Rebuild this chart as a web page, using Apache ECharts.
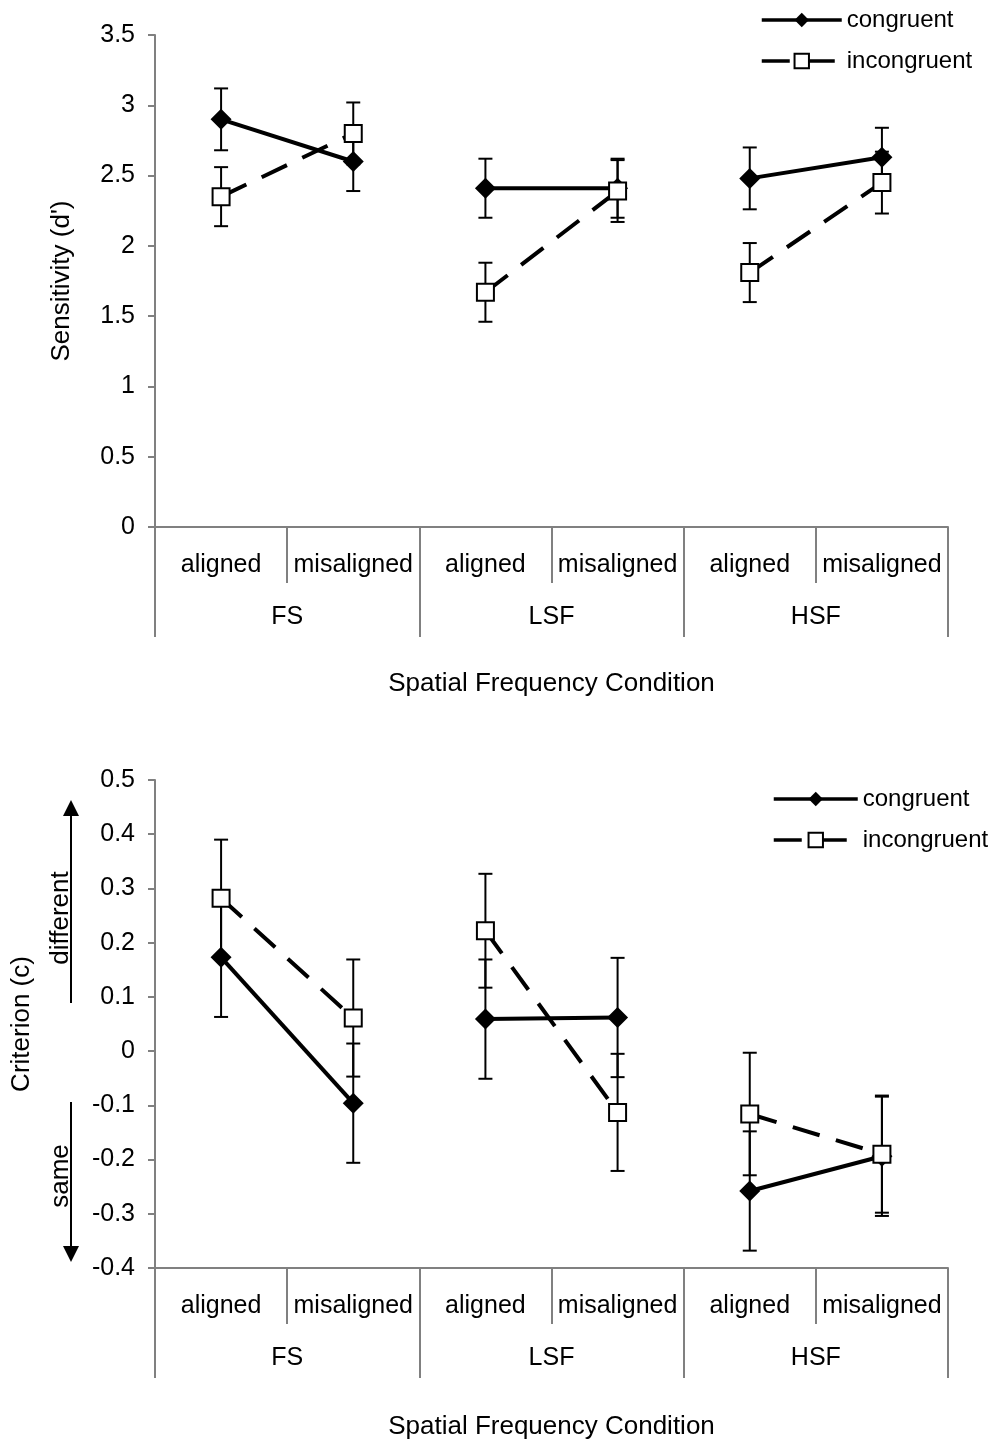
<!DOCTYPE html>
<html><head><meta charset="utf-8">
<script src="https://cdn.jsdelivr.net/npm/echarts@6/dist/echarts.min.js"></script>
<style>html,body{margin:0;padding:0;background:#fff}#c{width:1000px;height:1442px}</style>
</head><body><div id="c"></div>
<script>
// ---------- data ----------
const categories = ['aligned', 'misaligned', 'aligned', 'misaligned', 'aligned', 'misaligned'];
const groups = ['FS', 'LSF', 'HSF'];
const legendNames = ['congruent', 'incongruent'];
const xTitle = 'Spatial Frequency Condition';

// top panel: sensitivity d'
const dCongruent = [2.90, 2.60, 2.41, 2.41, 2.48, 2.63];
const dCongruentErr = [0.22, 0.21, 0.21, 0.21, 0.22, 0.21];
const dIncongruent = [2.35, 2.80, 1.67, 2.39, 1.81, 2.45];
const dIncongruentErr = [0.21, 0.22, 0.21, 0.22, 0.21, 0.22];

// bottom panel: criterion c
const cCongruent = [0.173, -0.096, 0.059, 0.062, -0.258, -0.194];
const cCongruentErr = [0.11, 0.11, 0.11, 0.11, 0.11, 0.11];
const cIncongruent = [0.282, 0.061, 0.222, -0.113, -0.116, -0.190];
const cIncongruentErr = [0.108, 0.108, 0.105, 0.108, 0.113, 0.108];

// ---------- styling ----------
const FONT = '"Liberation Sans", Arial, Helvetica, sans-serif';
const AX = '#808080';

function splitGroups(vals) {
  return groups.map((g, gi) => vals.map((v, i) => (Math.floor(i / 2) === gi ? v : '-')));
}
function errSeries(name, grid, vals, errs) {
  return {
    type: 'custom', name: name, xAxisIndex: grid * 2, yAxisIndex: grid, z: 1, silent: true,
    data: vals.map((v, i) => [i, v - errs[i], v + errs[i]]),
    encode: { x: 0, y: [1, 2] },
    renderItem: function (params, api) {
      const x = api.value(0);
      const lo = api.coord([x, api.value(1)]);
      const hi = api.coord([x, api.value(2)]);
      const w = 7;
      const st = { stroke: '#000', lineWidth: 2 };
      return { type: 'group', children: [
        { type: 'line', shape: { x1: lo[0], y1: lo[1], x2: hi[0], y2: hi[1] }, style: st },
        { type: 'line', shape: { x1: lo[0] - w, y1: lo[1], x2: lo[0] + w, y2: lo[1] }, style: st },
        { type: 'line', shape: { x1: hi[0] - w, y1: hi[1], x2: hi[0] + w, y2: hi[1] }, style: st }
      ] };
    }
  };
}
function lineSeries(name, grid, vals, congruent) {
  return splitGroups(vals).map(d => ({
    type: 'line', name: name, xAxisIndex: grid * 2, yAxisIndex: grid, data: d,
    z: congruent ? 3 : 4, silent: true,
    symbol: congruent ? 'diamond' : 'rect',
    symbolSize: congruent ? 21 : 17,
    showAllSymbol: true,
    itemStyle: congruent ? { color: '#000' } : { color: '#fff', borderColor: '#000', borderWidth: 2 },
    lineStyle: { color: '#000', width: 4, type: congruent ? 'solid' : [28, 17] },
    emphasis: { disabled: true }
  }));
}
function catAxis(g) {
  return {
    type: 'category', gridIndex: g, data: categories, position: 'bottom',
    axisLine: { show: true, onZero: false, lineStyle: { color: AX, width: 2 } },
    axisTick: { show: true, length: 56, interval: 0, lineStyle: { color: AX, width: 2 } },
    axisLabel: { interval: 0, margin: 26, fontSize: 25, color: '#000', fontFamily: FONT },
    splitLine: { show: false }
  };
}
function groupAxis(g, gap) {
  return {
    type: 'category', gridIndex: g, data: groups, position: 'bottom',
    axisLine: { show: false, onZero: false },
    axisTick: { show: true, length: 110, interval: 0, lineStyle: { color: AX, width: 2 } },
    axisLabel: { interval: 0, margin: 78, fontSize: 25, color: '#000', fontFamily: FONT },
    splitLine: { show: false },
    name: xTitle, nameLocation: 'middle', nameGap: gap,
    nameTextStyle: { fontSize: 26, color: '#000', fontFamily: FONT }
  };
}
function valAxis(g, min, max, interval, name, gap) {
  return {
    type: 'value', gridIndex: g, min: min, max: max, interval: interval,
    axisLine: { show: true, lineStyle: { color: AX, width: 2 } },
    axisTick: { show: true, length: 7, lineStyle: { color: AX, width: 2 } },
    splitLine: { show: false },
    axisLabel: { margin: 20, fontSize: 25, color: '#000', fontFamily: FONT },
    name: name, nameLocation: 'middle', nameRotate: 90, nameGap: gap,
    nameTextStyle: { fontSize: 26, color: '#000', fontFamily: FONT }
  };
}
function legendAt(left, top, w) {
  return {
    data: legendNames, left: left, top: top, orient: 'vertical', padding: 0,
    itemWidth: w, itemHeight: 18, itemGap: 17, selectedMode: false,
    lineStyle: { width: 3.5 },
    textStyle: { fontSize: 24, color: '#000', fontFamily: FONT }
  };
}

const chart = echarts.init(document.getElementById('c'), null, { renderer: 'canvas' });
chart.setOption({
  animation: false,
  backgroundColor: '#fff',
  textStyle: { fontFamily: FONT },
  grid: [
    { left: 155, right: 52, top: 35, height: 492 },
    { left: 155, right: 52, top: 780, height: 488 }
  ],
  xAxis: [catAxis(0), groupAxis(0, 144), catAxis(1), groupAxis(1, 146)],
  yAxis: [
    valAxis(0, 0, 3.5, 0.5, "Sensitivity (d')", 80),
    valAxis(1, -0.4, 0.5, 0.1, 'Criterion (c)', 120)
  ],
  legend: [legendAt(760, 8, 80), legendAt(772, 787, 84)],
  graphic: [
    { type: 'text', x: 61, y: 918, rotation: Math.PI / 2,
      style: { text: 'different', font: '26px ' + FONT, fill: '#000', align: 'center', verticalAlign: 'middle', textAlign: 'center', textVerticalAlign: 'middle' } },
    { type: 'text', x: 61, y: 1176, rotation: Math.PI / 2,
      style: { text: 'same', font: '26px ' + FONT, fill: '#000', align: 'center', verticalAlign: 'middle', textAlign: 'center', textVerticalAlign: 'middle' } },
    { type: 'line', shape: { x1: 71, y1: 1003, x2: 71, y2: 812 }, style: { stroke: '#000', lineWidth: 2 } },
    { type: 'polygon', shape: { points: [[71, 800], [63, 816], [79, 816]] }, style: { fill: '#000' } },
    { type: 'line', shape: { x1: 71, y1: 1102, x2: 71, y2: 1250 }, style: { stroke: '#000', lineWidth: 2 } },
    { type: 'polygon', shape: { points: [[71, 1262], [63, 1246], [79, 1246]] }, style: { fill: '#000' } }
  ],
  series: [].concat(
    [errSeries('errDC', 0, dCongruent, dCongruentErr), errSeries('errDI', 0, dIncongruent, dIncongruentErr),
     errSeries('errCC', 1, cCongruent, cCongruentErr), errSeries('errCI', 1, cIncongruent, cIncongruentErr)],
    lineSeries('congruent', 0, dCongruent, true),
    lineSeries('incongruent', 0, dIncongruent, false),
    lineSeries('congruent', 1, cCongruent, true),
    lineSeries('incongruent', 1, cIncongruent, false)
  )
});
</script>
</body></html>
